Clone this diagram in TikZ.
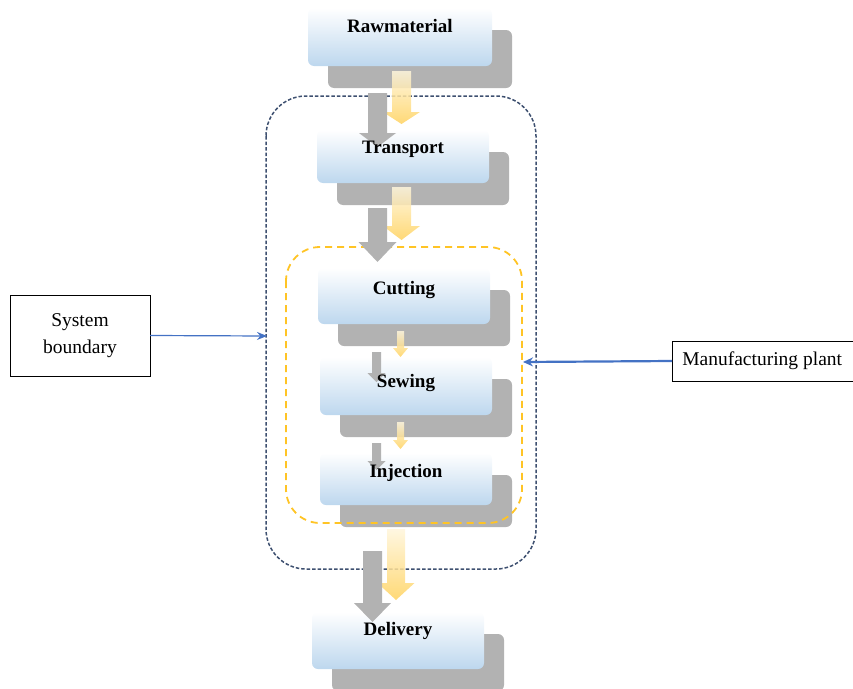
\documentclass[tikz,border=0pt]{standalone}
\usepackage{fontspec}
\setmainfont{Liberation Serif}
\usetikzlibrary{calc,arrows.meta}
\definecolor{boxblue}{HTML}{BDD7EE}
\definecolor{shadegray}{HTML}{B2B2B2}
\definecolor{ygold}{HTML}{FFD25E}
\definecolor{ypale}{HTML}{FFF6DC}
\definecolor{navydash}{HTML}{3E5070}
\definecolor{orangedash}{HTML}{FFC425}
\definecolor{linkblue}{HTML}{4472C4}
% block arrow: style, x, y start, y tip, shaft half width, head half width, head length
\newcommand{\blockarrow}[7]{%
  \path[#1] (#2-#5,#3) -- (#2+#5,#3) -- (#2+#5,#4-#7) -- (#2+#6,#4-#7)
    -- (#2,#4) -- (#2-#6,#4-#7) -- (#2-#5,#4-#7) -- cycle;}
\begin{document}
\begin{tikzpicture}[x=1pt,y=-1pt,
  front/.style={rounded corners=6pt,top color=white,bottom color=boxblue,
    minimum height=#1,inner sep=0pt},
  shadowbox/.style={rounded corners=6pt,fill=shadegray,minimum height=#1,inner sep=0pt},
  steplabel/.style={font=\fontsize{19}{22}\selectfont\bfseries},
  plain/.style={draw,thin,font=\fontsize{19.5}{27}\selectfont,align=center,inner sep=0pt},
  grayarrow/.style={fill=shadegray},
  yelarrow/.style={top color=ypale,bottom color=ygold,fill opacity=0.85}]
  \useasboundingbox (0,0) rectangle (853,688);
	% process boxes with their shadows
	\foreach \n/\x/\y/\w/\h in {raw/400/37/184/58, trans/403/156.5/172/53,
	  cut/404/296/172/56, sew/406/386/172/58, inj/406/479/172/52, del/398/640.5/172/57} {
	  \node[shadowbox=\h,minimum width=\w] (\n sh) at (\x+20,\y+22) {};
	  \node[front=\h,minimum width=\w] (\n) at (\x,\y) {};
	}
	% boundaries
	\draw[navydash,line width=1.5pt,dash pattern=on 3.5pt off 2pt,rounded corners=40pt]
	  (266,96) rectangle (536,569);
	\draw[orangedash,line width=1.8pt,dash pattern=on 7pt off 5pt,rounded corners=34pt]
	  (286,247) rectangle (522,523);
	% flow arrows
	\blockarrow{yelarrow}{401.5}{71}{124}{9.5}{18.5}{12}
	\blockarrow{grayarrow}{377.5}{93}{147}{9.5}{18.5}{14}
	\blockarrow{yelarrow}{401.5}{187}{240}{9.5}{18.5}{14}
	\blockarrow{grayarrow}{377.5}{208}{262}{9.5}{19}{20}
	\blockarrow{yelarrow}{400.5}{331}{357}{3.5}{7.5}{9}
	\blockarrow{grayarrow}{376.5}{352}{382}{4.5}{9}{9}
	\blockarrow{yelarrow}{400.5}{422}{449}{3.5}{7.5}{9}
	\blockarrow{grayarrow}{376.5}{443}{470}{4.5}{9}{9}
	\blockarrow{yelarrow}{396}{529}{600}{9}{18.5}{17}
	\blockarrow{grayarrow}{372.5}{551}{622}{9.5}{18.5}{19}
	% step names
	\foreach \n/\t/\d in {raw/Rawmaterial/18, trans/Transport/19, cut/Cutting/22,
	  sew/Sewing/26, inj/Injection/20, del/Delivery/19}
	  \node[steplabel] (\n t) at ([yshift=-\d pt]\n.north) {\t};
	% side notes
	\node[plain,minimum width=140pt,minimum height=81pt] (sysb) at (80,335.5) {System\\boundary};
	\node[plain,minimum width=190pt,minimum height=40pt,anchor=west] (plant) at (672,361)
	  {\hspace*{-10pt}Manufacturing plant};
	\coordinate (sysend) at (267,336);
	\coordinate (plantend) at (523,362);
	\draw[linkblue,line width=1.2pt,-{Stealth[length=10pt,width=8pt]}] (sysb.east) -- (sysend);
	\draw[linkblue,line width=2.2pt,-{Stealth[length=10pt,width=9pt]}] (plant.west) -- (plantend);
\end{tikzpicture}
\end{document}
